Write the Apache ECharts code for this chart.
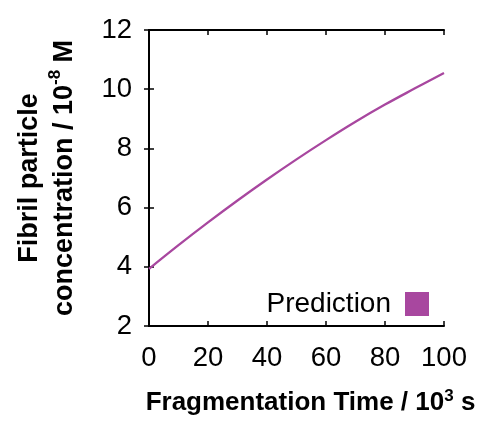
<!DOCTYPE html>
<html>
<head>
<meta charset="utf-8">
<script src="https://cdn.jsdelivr.net/npm/echarts@6/dist/echarts.min.js"></script>
<style>
  html, body { margin: 0; padding: 0; background: #ffffff; }
  #chart { width: 489px; height: 423px; }
</style>
</head>
<body>
<div id="chart"></div>
<script>
// fragmentation time (10^3 s) and predicted fibril particle concentration (10^-8 M)
const times = [0, 10, 20, 30, 40, 50, 60, 70, 80, 90, 100];
const prediction = [3.93, 4.73, 5.50, 6.24, 6.95, 7.63, 8.28, 8.90, 9.48, 10.02, 10.55];

const FONT = "Liberation Sans";
const PURPLE = "#a8479f";

const chart = echarts.init(document.getElementById("chart"), null, { renderer: "canvas" });

const tickStyle = { show: true, inside: true, length: 5, lineStyle: { color: "#000", width: 1.5 } };
const lineStyle = { show: true, lineStyle: { color: "#000", width: 2 } };
const labelStyle = { fontFamily: FONT, fontSize: 27.5, color: "#000" };

const xRich = {
  b: { fontFamily: FONT, fontSize: 26, fontWeight: "bold", color: "#000", lineHeight: 30 },
  sup: { fontFamily: FONT, fontSize: 17, fontWeight: "bold", color: "#000", lineHeight: 20, verticalAlign: "top" },
};
const yRich = {
  b: { fontFamily: FONT, fontSize: 27, fontWeight: "bold", color: "#000", lineHeight: 35 },
  sup: { fontFamily: FONT, fontSize: 17, fontWeight: "bold", color: "#000", lineHeight: 17, verticalAlign: "top" },
};

chart.setOption({
  backgroundColor: "#ffffff",
  animation: false,
  textStyle: { fontFamily: FONT },
  grid: { left: 149, right: 45, top: 30, bottom: 97, containLabel: false },
  legend: {
    right: 55, top: 285, align: "right", icon: "rect", itemWidth: 24, itemHeight: 24,
    textStyle: { fontFamily: FONT, fontSize: 28, color: "#000", padding: [0, 9, 0, 0] },
    data: ["Prediction"],
  },
  xAxis: [
    {
      type: "value", min: 0, max: 100, interval: 20,
      axisLine: lineStyle, axisTick: tickStyle, splitLine: { show: false },
      axisLabel: Object.assign({ margin: 18 }, labelStyle),
      name: "{b|Fragmentation Time / 10}{sup|3}{b| s}",
      nameLocation: "middle", nameGap: 62,
      nameTextStyle: { rich: xRich, padding: [0, 0, 0, 28] },
    },
    {
      type: "value", position: "top", min: 0, max: 100, interval: 20,
      axisLine: lineStyle, axisTick: tickStyle, axisLabel: { show: false }, splitLine: { show: false },
    },
  ],
  yAxis: [
    {
      type: "value", min: 2, max: 12, interval: 2,
      axisLine: lineStyle, axisTick: tickStyle, splitLine: { show: false },
      axisLabel: Object.assign({ margin: 17 }, labelStyle),
      name: "{b|Fibril particle}\n{b|concentration / 10}{sup|-8}{b| M}",
      nameLocation: "middle", nameRotate: 90, nameGap: 67,
      nameTextStyle: { rich: yRich, align: "center" },
    },
    {
      type: "value", position: "right", min: 2, max: 12, interval: 2,
      axisLine: lineStyle, axisTick: tickStyle, axisLabel: { show: false }, splitLine: { show: false },
    },
  ],
  series: [
    {
      name: "Prediction", type: "line", smooth: 0.4, showSymbol: false,
      data: times.map((t, i) => [t, prediction[i]]),
      lineStyle: { color: PURPLE, width: 2.3 },
      itemStyle: { color: PURPLE },
    },
  ],
});
</script>
</body>
</html>
